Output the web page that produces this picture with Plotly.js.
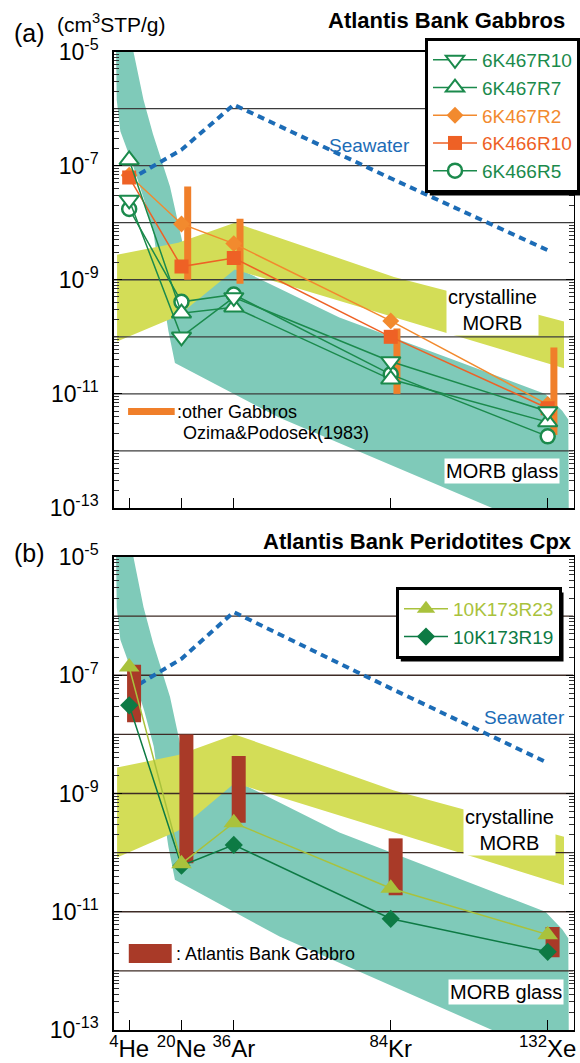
<!DOCTYPE html>
<html>
<head>
<meta charset="utf-8">
<script src="https://cdn.plot.ly/plotly-3.0.1.min.js"></script>
<style>html,body{margin:0;padding:0;background:#fff}#chart{width:580px;height:1063px}</style>
</head>
<body>
<div id="chart"></div>
<script>
// ---------- data ----------
const elementMass = [4, 20, 36, 84, 132];
const elementLabels = ['<sup>4</sup>He', '<sup>20</sup>Ne', '<sup>36</sup>Ar', '<sup>84</sup>Kr', '<sup>132</sup>Xe'];

// panel (a) Atlantis Bank Gabbros (cm3STP/g) : He, Ne, Ar, Kr, Xe
const s6K467R10 = [2.5e-8, 1.0e-10, 4.9e-10, 3.7e-11, 4.9e-12];
const s6K467R7  = [1.26e-7, 2.6e-10, 3.3e-10, 1.8e-11, 3.2e-12];
const s6K467R2  = [6.8e-8, 9.5e-9, 4.3e-9, 1.9e-10, 6.5e-12];
const s6K466R10 = [6.2e-8, 1.7e-9, 2.4e-9, 1.0e-10, 5.6e-12];
const s6K466R5  = [1.74e-8, 4.1e-10, 5.5e-10, 2.2e-11, 1.8e-12];

// other gabbros (Ozima & Podosek 1983) ranges : Ne, Ar, Kr, Xe
const otherGabbroMass = [20, 36, 84, 132];
const otherGabbroLow  = [1.0e-9, 8.5e-10, 1.0e-11, 1.9e-12];
const otherGabbroHigh = [4.3e-8, 1.17e-8, 1.4e-10, 6.5e-11];

// panel (b) Atlantis Bank Peridotites Cpx
const s10K173R23 = [1.38e-7, 6.5e-11, 3.2e-10, 2.5e-11, 4.1e-12];
const s10K173R19 = [3.1e-8, 6.0e-11, 1.35e-10, 7.6e-12, 2.1e-12];

// Atlantis Bank Gabbro ranges : He, Ne, Ar, Kr, Xe
const abGabbroLow  = [1.6e-8, 6.6e-11, 3.2e-10, 1.9e-11, 1.7e-12];
const abGabbroHigh = [1.5e-7, 1.0e-8, 4.3e-9, 1.74e-10, 5.5e-12];

// seawater
const seawater = [5.6e-8, 1.9e-7, 1.17e-6, 6.0e-8, 3.3e-9];

// MORB glass band outline (mass number, cm3STP/g)
const glassX = [0.0, 4.4, 5.3, 8.4, 11.3, 16.5, 19.0, 20.5, 38, 68.3, 131.3, 136.5, 138.3, 138.5, 115, 50, 18, 16.0, 13.5, 11.5, 8.6, 5.2, 1.3, 0.2, 0.0];
const glassY = [2.0e-5, 2.0e-5, 1.0e-5, 1.41e-6, 3.55e-7, 4.27e-8, 9.8e-9, 4.0e-9, 1.51e-9, 2.19e-10, 1.0e-11, 5.0e-12, 3.55e-12, 2.5e-14, 1.0e-13, 3.8e-12, 3.47e-11, 1.26e-10, 1.0e-9, 6.3e-9, 2.5e-8, 1.0e-7, 4.0e-7, 1.41e-6, 1.0e-5];

// crystalline MORB band outline
const crystX = [0.3, 19, 36.3, 85, 137, 137, 36.3, 19, 0.3];
const crystY = [2.75e-9, 4.47e-9, 1.0e-8, 1.12e-9, 1.86e-10, 2.82e-11, 1.51e-9, 2.34e-10, 8.3e-11];

// ---------- styling ----------
const FONT = 'Liberation Sans, Arial, Helvetica, sans-serif';
const XR = [-0.7, 139.9];
const W = 580, H = 1063;
const px = v => v / W;
const py = v => 1 - v / H;
const GREEN = '#1b8a4c', ORANGE = '#f28a2e', REDOR = '#ee6125';
const YG = '#a9c23c', DKGREEN = '#0d7a44', BARRED = '#a93a28', SEA = '#1c6cb6';
const TEAL = '#7fcab9', YELLOW = '#d3dd57';

function rangeSegs(xs, lo, hi, off) {
  const x = [], y = [];
  xs.forEach((m, i) => { if (lo[i] == null) return; x.push(m + off, m + off, null); y.push(lo[i], hi[i], null); });
  return {x, y};
}
function gridTrace(xa, ya, color) {
  const x = [], y = [];
  for (let e = -12; e <= -6; e++) { x.push(XR[0], XR[1], null); y.push(Math.pow(10, e), Math.pow(10, e), null); }
  return {x, y, xaxis: xa, yaxis: ya, mode: 'lines', line: {color, width: 1.3}, hoverinfo: 'skip', showlegend: false};
}

const traces = [];
['', '2'].forEach(k => {
  const xa = 'x' + k, ya = 'y' + k;
  traces.push({x: glassX, y: glassY, xaxis: xa, yaxis: ya, mode: 'lines', fill: 'toself', fillcolor: TEAL, line: {width: 0, color: TEAL}, showlegend: false, hoverinfo: 'skip'});
  traces.push({x: crystX, y: crystY, xaxis: xa, yaxis: ya, mode: 'lines', fill: 'toself', fillcolor: YELLOW, line: {width: 0, color: YELLOW}, showlegend: false, hoverinfo: 'skip'});
  traces.push(gridTrace(xa, ya, k === '' ? '#3c3c3c' : '#3d2b25'));
  traces.push({x: elementMass, y: seawater, xaxis: xa, yaxis: ya, mode: 'lines', line: {color: SEA, width: 4, dash: '7px,5px'}, showlegend: false, hoverinfo: 'skip'});
});

// panel a bars
const ob = rangeSegs(otherGabbroMass, otherGabbroLow, otherGabbroHigh, 1.9);
traces.push({x: ob.x, y: ob.y, xaxis: 'x', yaxis: 'y', mode: 'lines', line: {color: '#f07f2a', width: 7}, showlegend: false, hoverinfo: 'skip'});
// panel b bars
const ab = rangeSegs(elementMass, abGabbroLow, abGabbroHigh, 1.5);
traces.push({x: ab.x, y: ab.y, xaxis: 'x2', yaxis: 'y2', mode: 'lines', line: {color: BARRED, width: 14}, showlegend: false, hoverinfo: 'skip'});

function series(name, y, color, symbol, fill, size, lw, rank, legend, xa, ya) {
  return {
    name: '<span style="color:' + color + '">' + name + '</span>',
    x: elementMass, y, xaxis: xa, yaxis: ya, mode: 'lines+markers', legend, legendrank: rank,
    line: {color, width: 1.5},
    marker: {symbol, size, color: fill, line: {color, width: lw}},
    hoverinfo: 'skip'
  };
}
traces.push(series('6K467R2', s6K467R2, ORANGE, 'diamond', ORANGE, 13, 0, 3, 'legend', 'x', 'y'));
traces.push(series('6K466R10', s6K466R10, REDOR, 'square', REDOR, 14, 0, 4, 'legend', 'x', 'y'));
traces.push(series('6K466R5', s6K466R5, GREEN, 'circle', '#ffffff', 14, 2.5, 5, 'legend', 'x', 'y'));
traces.push(series('6K467R7', s6K467R7, GREEN, 'triangle-up', '#ffffff', 17, 2, 2, 'legend', 'x', 'y'));
traces.push(series('6K467R10', s6K467R10, GREEN, 'triangle-down', '#ffffff', 17, 2, 1, 'legend', 'x', 'y'));
traces.push(series('10K173R19', s10K173R19, DKGREEN, 'diamond', DKGREEN, 14, 0, 2, 'legend2', 'x2', 'y2'));
traces.push(series('10K173R23', s10K173R23, YG, 'triangle-up', YG, 18, 0, 1, 'legend2', 'x2', 'y2'));

// ---------- axes ----------
const majorVals = [], majorText = [], minorVals = [];
for (let e = -13; e <= -5; e++) {
  if (e % 2 !== 0) { majorVals.push(Math.pow(10, e)); majorText.push('10<sup>' + e + '</sup>'); }
  else minorVals.push(Math.pow(10, e));
  if (e < -5) for (let d = 2; d <= 9; d++) minorVals.push(d * Math.pow(10, e));
}
function yax(domain) {
  return {type: 'log', range: [-13, -5], domain, tickmode: 'array', tickvals: majorVals, ticktext: majorText,
    ticks: 'inside', ticklen: 8, tickwidth: 1.2, tickcolor: '#000', showline: true, linecolor: '#000', linewidth: 1.6,
    mirror: 'allticks', showgrid: false, zeroline: false, ticklabelstandoff: 9,
    tickfont: {family: FONT, size: 23, color: '#000'},
    minor: {tickmode: 'array', tickvals: minorVals, ticks: 'inside', ticklen: 5, tickwidth: 1, tickcolor: '#333', showgrid: false},
    automargin: false, fixedrange: true};
}
function xax(anchor, labels) {
  return {range: XR, domain: [px(114), px(574.5)], anchor, tickmode: 'array', tickvals: elementMass, ticktext: elementLabels,
    showticklabels: labels, ticks: 'inside', ticklen: 10, tickwidth: 1.2, tickcolor: '#000', showline: true, linecolor: '#000',
    linewidth: 1.6, mirror: true, showgrid: false, zeroline: false, ticklabelstandoff: -3,
    tickfont: {family: FONT, size: 24, color: '#000'}, automargin: false, fixedrange: true};
}

function label(text, x, y, opts) {
  return Object.assign({text, x: px(x), y: py(y), xref: 'paper', yref: 'paper', showarrow: false,
    xanchor: 'center', yanchor: 'middle', font: {family: FONT, size: 18, color: '#000'}}, opts || {});
}
const boxOpts = size => ({bgcolor: '#fff', borderpad: 1, font: {family: FONT, size, color: '#000'}});

const annotations = [
  label('(a)', 12, 33, {xanchor: 'left', font: {family: FONT, size: 25, color: '#000'}}),
  label('(cm<sup>3</sup>STP/g)', 55, 23, {xanchor: 'left', font: {family: FONT, size: 21, color: '#000'}}),
  label('<b>Atlantis Bank Gabbros</b>', 568, 20, {xanchor: 'right', font: {family: FONT, size: 22, color: '#000'}}),
  label('Seawater', 370, 145, {font: {family: FONT, size: 19, color: SEA}}),
  label('crystalline<br>MORB', 493.5, 310, boxOpts(20)),
  label('MORB glass', 503, 471, boxOpts(20)),
  label(':other Gabbros', 175, 411.5, {xanchor: 'left'}),
  label('Ozima&Podosek(1983)', 181, 433, {xanchor: 'left'}),
  label('(b)', 12, 553, {xanchor: 'left', font: {family: FONT, size: 25, color: '#000'}}),
  label('<b>Atlantis Bank Peridotites Cpx</b>', 575, 541.5, {xanchor: 'right', font: {family: FONT, size: 22, color: '#000'}}),
  label('Seawater', 525, 717, {font: {family: FONT, size: 19, color: SEA}}),
  label('crystalline<br>MORB', 510.5, 830, boxOpts(20)),
  label('MORB glass', 506.5, 992, boxOpts(20)),
  label(': Atlantis Bank Gabbro', 174, 953.5, {xanchor: 'left'})
];

const shapes = [
  {type: 'rect', xref: 'paper', yref: 'paper', x0: px(128.3), x1: px(175), y0: py(415), y1: py(408), fillcolor: '#f07f2a', line: {width: 0}},
  {type: 'rect', xref: 'paper', yref: 'paper', x0: px(129), x1: px(172), y0: py(963), y1: py(944), fillcolor: BARRED, line: {width: 0}}
];

const legendBase = {bgcolor: '#fff', bordercolor: '#000', borderwidth: 3, font: {family: FONT, size: 19, color: '#000'},
  xanchor: 'left', yanchor: 'top', tracegroupgap: 0, itemwidth: 44, itemclick: false, itemdoubleclick: false};

const layout = {
  width: W, height: H, margin: {l: 0, r: 0, t: 0, b: 0}, paper_bgcolor: '#fff', plot_bgcolor: '#fff',
  font: {family: FONT, color: '#000'},
  showlegend: true,
  legend: Object.assign({}, legendBase, {x: px(426), y: py(38)}),
  legend2: Object.assign({}, legendBase, {x: px(396), y: py(587)}),
  xaxis: xax('y', false),
  yaxis: yax([py(508), py(51.5)]),
  xaxis2: xax('y2', true),
  yaxis2: yax([py(1030), py(557)]),
  annotations, shapes
};

const gd = document.getElementById('chart');
Plotly.newPlot(gd, traces, layout, {displayModeBar: false, staticPlot: true}).then(() => {
  // drop shadow behind each legend box
  const root = gd.getBoundingClientRect();
  const extra = [];
  gd.querySelectorAll('g.legend rect.bg, g.legend2 rect.bg').forEach(r => {
    const b = r.getBoundingClientRect();
    const x0 = b.left - root.left + 4, y0 = b.top - root.top + 4;
    const x1 = b.right - root.left + 4, y1 = b.bottom - root.top + 4;
    extra.push({type: 'rect', xref: 'paper', yref: 'paper', layer: 'above', x0: px(x0), x1: px(x1), y0: py(y1), y1: py(y0),
      fillcolor: '#000', line: {width: 0}});
  });
  if (extra.length) Plotly.relayout(gd, {shapes: shapes.concat(extra)});
});
</script>
</body>
</html>
